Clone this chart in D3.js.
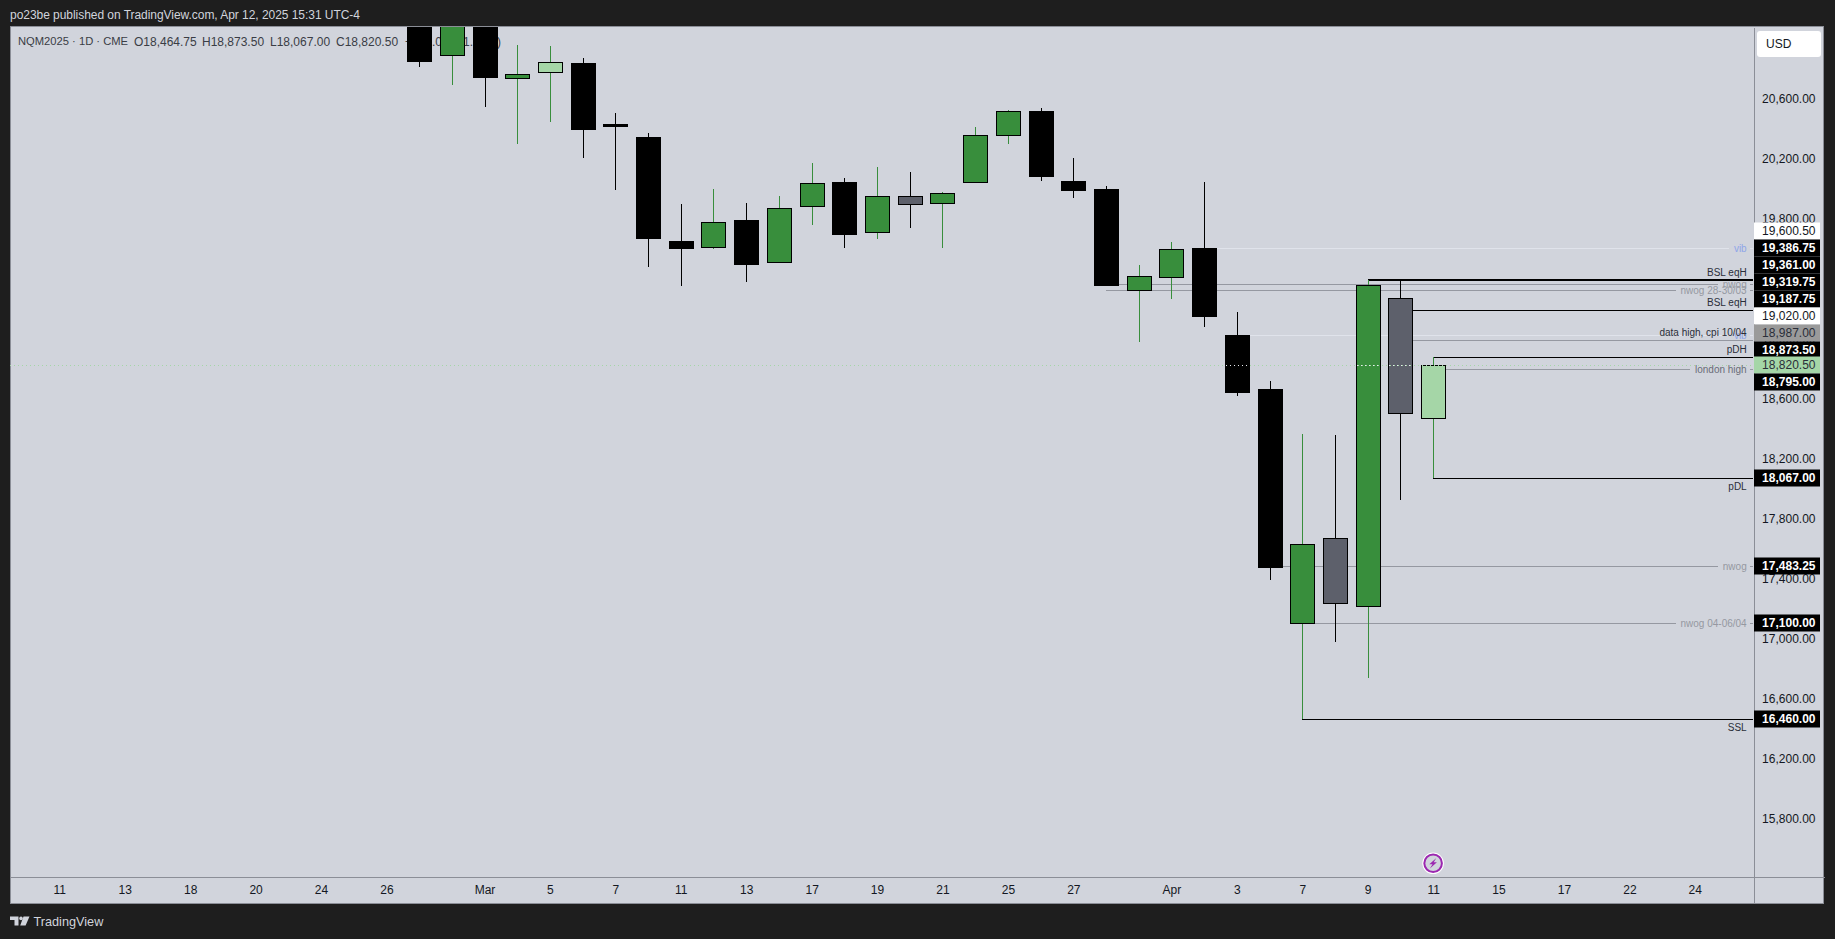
<!DOCTYPE html>
<html><head><meta charset="utf-8">
<script src="https://cdn.jsdelivr.net/npm/d3@7"></script>
<style>
html,body{margin:0;padding:0;background:#1e1e1e;overflow:hidden}
svg{display:block}
text{font-family:"Liberation Sans",Arial,sans-serif}
</style></head><body>
<svg id="c" width="1835" height="939"></svg>
<script>
// ---- data ----
const indexes = [11,12,13,14,15,16,17,18,19,20,21,22,23,24,25,26,27,28,29,30,31,32,33,34,35,36,37,38,39,40,41,42];
const opens  = [21189,20887,21255,20738,20771,20836,20429,20342,19649,19604,19789,19504,19884,20042,19704,19947,19898,20044,20351,20516,20049,19996,19318,19404,19602,19022,18662,17098,17667,17218,19267,18464.75];
const highs  = [21300,21300,21300,20956,20949,20869,20502,20369,19896,19996,19902,19949,20169,20069,20142,20109,19976,20409,20524,20536,20202,20016,19489,19642,20042,19176,18716,18362,18356,19386.75,19386,18873.5];
const lows   = [20811,20691,20544,20298,20444,20204,19991,19478,19351,19598,19378,19504,19758,19602,19664,19738,19602,20044,20296,20049,19938,19356,18978,19264,19078,18618,17389,16460,16978,16738,17925,18067];
const closes = [20851,21222,20744,20762,20840,20398,20418,19669,19602,19774,19496,19867,20034,19696,19947,19891,19967,20354,20514,20082,19989,19356,19414,19594,19149,18642,17478,17627,17231,19356,18498,18820.5];
const kinds  = ["down","up","down","up","light","down","down","down","down","up","down","up","up","down","up","gray","up","up","up","down","down","down","up","up","down","down","down","up","gray","up","gray","light"];

const timeTickIndex = [0,2,4,6,8,10,13,15,17,19,21,23,25,27,29,31,34,36,38,40,42,44,46,48,50];
const timeTickLabels = ["11","13","18","20","24","26","Mar","5","7","11","13","17","19","21","25","27","Apr","3","7","9","11","15","17","22","24"];
const priceTicks = [20600,20200,19800,19400,19000,18600,18200,17800,17400,17000,16600,16200,15800];

const levelPrices = [19600.5,19386.75,19361,19319.75,19187.75,19020,18987,18873.5,18795,18067,17483.25,17100,16460];
const levelStart  = [35,40,32,32,41,36,41,42,42,42,37,38,38];
const levelTexts  = ["vib","BSL eqH","nwog","nwog 28-30/03","BSL eqH","vib","data high, cpi 10/04","pDH","london high","pDL","nwog","nwog 04-06/04","SSL"];
const levelKinds  = ["vib","liqAbove","inline","inline","liqAbove","vib","grayAbove","liqAbove","inlineDark","liqBelow","inline","inline","liqBelow"];

const tagTexts = ["19,600.50","19,386.75","19,361.00","19,319.75","19,187.75","19,020.00","18,987.00","18,873.50","18,820.50","18,795.00","18,067.00","17,483.25","17,100.00","16,460.00"];
const tagKinds = ["white","black","black","black","black","white","grey","black","green","black","black","black","black","black"];
const tagPrices= [19715,19600.5,19487,19374,19261,19148,19034,18921,18820.5,18707,18067,17483.25,17100,16460];

const lastPrice = 18820.5;
const legendText = ["NQM2025 · 1D · CME","O18,464.75","H18,873.50","L18,067.00","C18,820.50","+323.00 (+1.75%)"];
const titleText = "po23be published on TradingView.com, Apr 12, 2025 15:31 UTC-4";

// ---- layout and style ----
const L=10,R=1824,T=27,B=903,AX=1753,TA=876;
const bg="#d1d4dc",axisCol="#8b8e97",ink="#131722";
const fillOf={down:"#000000",up:"#388e3c",light:"#a5d6a7",gray:"#5d606b"};
const wickOf={down:"#000000",up:"#388e3c",light:"#388e3c",gray:"#000000"};

const x=d3.scaleLinear().domain([-1.507,53.95]).range([L,R]);
const y=d3.scaleLinear().domain([15235.7,21075.7]).range([B,T]);

const svg=d3.select("#c");
svg.append("rect").attr("width",1835).attr("height",939).attr("fill","#1e1e1e");
svg.append("defs").append("clipPath").attr("id","pane").append("rect")
  .attr("x",L).attr("y",T).attr("width",AX-L).attr("height",TA-T);
svg.append("rect").attr("x",L+.5).attr("y",T-.5).attr("width",R-L-1).attr("height",B-T+1)
  .attr("fill",bg).attr("stroke",axisCol);

svg.append("text").attr("x",10).attr("y",15).attr("dy",".35em").attr("fill","#d1d4dc")
  .attr("font-size",12).attr("textLength",350).text(titleText);

// legend (sits under the candles)
const legendX=[18,134,202,270,336,405];
const legendFont=[11.2,12,12,12,12,12];
svg.append("g").selectAll("text").data(legendText).join("text")
  .attr("x",(d,i)=>legendX[i]).attr("y",41.5).attr("dy",".35em").attr("font-size",(d,i)=>legendFont[i])
  .attr("fill","#3a3d45").text(d=>d);

const pane=svg.append("g").attr("clip-path","url(#pane)");

// level lines + notes
const lv=levelPrices.map((p,i)=>({p,start:levelStart[i],txt:levelTexts[i],k:levelKinds[i]}));
const lineCol={vib:"#e0e3eb",liqAbove:"#000",liqBelow:"#000",grayAbove:"#9598a1",inline:"#9598a1",inlineDark:"#9598a1"};
const txtCol={vib:"#8fa5e8",liqAbove:"#2a2e39",liqBelow:"#2a2e39",grayAbove:"#2a2e39",inline:"#9598a1",inlineDark:"#6a6d78"};
const TXR=1746.7;
const lvG=pane.append("g");
lv.forEach(d=>{
  const yy=Math.round(y(d.p));
  const inline=["vib","inline","inlineDark"].includes(d.k);
  const ty=inline?yy:(d.k==="liqBelow"?yy+8.5:yy-8);
  const t=svg.append("text").attr("class","note").attr("x",TXR).attr("y",ty).attr("dy",".35em")
     .attr("text-anchor","end").attr("font-size",10).attr("fill",txtCol[d.k]).text(d.txt);
  const w=t.node().getComputedTextLength();
  const sw=d.p===19386.75?2:1;
  const segs=inline?[[x(d.start),TXR-w-5],[TXR+3,AX]]:[[x(d.start),AX]];
  segs.forEach(s=>lvG.append("line").attr("x1",s[0]).attr("x2",s[1]).attr("y1",yy).attr("y2",yy)
     .attr("stroke",lineCol[d.k]).attr("stroke-width",sw).attr("shape-rendering","crispEdges"));
});

// candles
const cd=indexes.map((ix,i)=>({ix,o:opens[i],h:highs[i],l:lows[i],c:closes[i],k:kinds[i]}));
const g=pane.append("g").selectAll("g").data(cd).join("g");
g.append("line").attr("x1",d=>Math.round(x(d.ix))+.5).attr("x2",d=>Math.round(x(d.ix))+.5)
  .attr("y1",d=>y(d.h)).attr("y2",d=>y(d.l)).attr("stroke",d=>wickOf[d.k]).attr("stroke-width",1)
  .attr("shape-rendering","crispEdges");
g.append("rect").attr("x",d=>Math.round(x(d.ix))-11.5).attr("width",24)
  .attr("y",d=>Math.round(y(Math.max(d.o,d.c)))+.5)
  .attr("height",d=>Math.max(1,Math.round(y(Math.min(d.o,d.c))-y(Math.max(d.o,d.c)))))
  .attr("fill",d=>fillOf[d.k]).attr("stroke","#000").attr("stroke-width",1);

// last price dotted line: green on the pane, pale across dark candle bodies
const ly=Math.round(y(lastPrice))+.5;
pane.append("line").attr("x1",L).attr("x2",AX).attr("y1",ly).attr("y2",ly)
  .attr("stroke","#a5d6a7").attr("stroke-width",1).attr("stroke-dasharray","1 3");
pane.append("g").selectAll("line")
  .data(cd.filter(d=>d.k!=="light"&&Math.min(d.o,d.c)<lastPrice&&Math.max(d.o,d.c)>lastPrice)).join("line")
  .attr("x1",d=>Math.round(x(d.ix))-11).attr("x2",d=>Math.round(x(d.ix))+12).attr("y1",ly).attr("y2",ly)
  .attr("stroke","#e8ebf0").attr("stroke-width",1).attr("stroke-dasharray","1 3");
svg.selectAll("text.note").raise();

// axes
const yAxis=d3.axisRight(y).tickValues(priceTicks).tickFormat(d3.format(",.2f")).tickSize(0);
const ya=svg.append("g").attr("transform",`translate(${AX+.5},0)`).call(yAxis);
ya.select(".domain").attr("stroke",axisCol).attr("shape-rendering","crispEdges");
ya.selectAll("text").attr("x",62).attr("text-anchor","end").attr("font-size",12)
  .attr("font-family",'"Liberation Sans",Arial,sans-serif').attr("fill",ink);

const xAxis=d3.axisBottom(x).tickValues(timeTickIndex).tickFormat((d,i)=>timeTickLabels[i]).tickSize(0);
const xa=svg.append("g").attr("transform",`translate(0,${TA+.5})`).call(xAxis);
xa.select(".domain").attr("stroke",axisCol).attr("shape-rendering","crispEdges");
xa.selectAll("text").attr("y",13.5).attr("dy",".35em").attr("font-size",12)
  .attr("font-family",'"Liberation Sans",Arial,sans-serif').attr("fill",ink);

// price tags
const tagStyle={white:["#ffffff","#131722"],black:["#000000","#ffffff"],grey:["#9a9a9a","#2a2e39"],green:["#a5d6a7","#2a2e39"]};
const tg=svg.append("g").selectAll("g").data(tagTexts.map((t,i)=>({t,k:tagKinds[i],p:tagPrices[i]}))).join("g")
  .attr("transform",d=>`translate(${AX+1},${Math.round(y(d.p))})`);
tg.append("rect").attr("x",0).attr("y",-8.5).attr("width",66).attr("height",17).attr("fill",d=>tagStyle[d.k][0]);
tg.append("text").attr("x",61.5).attr("dy",".35em").attr("text-anchor","end").attr("font-size",12)
  .attr("font-weight",d=>d.k==="black"?"bold":"normal").attr("fill",d=>tagStyle[d.k][1]).text(d=>d.t);

// USD button
svg.append("rect").attr("x",1757).attr("y",31).attr("width",64).attr("height",26).attr("rx",3).attr("fill","#fff");
svg.append("text").attr("x",1766).attr("y",44).attr("dy",".35em").attr("font-size",12).attr("fill",ink).text("USD");

// event badge
const ev=svg.append("g").attr("transform",`translate(${x(42)},863.3)`);
ev.append("circle").attr("r",10.8).attr("fill","#fff");
ev.append("circle").attr("r",8.8).attr("fill",bg).attr("stroke","#9c27b0").attr("stroke-width",2);
ev.append("path").attr("d","M3.2,-5.2L-3.8,1H-0.6L-3.2,5.2L3.8,-1H0.6Z").attr("fill","#9c27b0");

// brand
svg.append("path").attr("d","M10,916.5H18.5V925.5H14.5V920H10ZM23.5,916.5H29.5L25.6,925.5H20.2Z").attr("fill","#d1d4dc");
svg.append("circle").attr("cx",21).attr("cy",918.4).attr("r",1.8).attr("fill","#d1d4dc");
svg.append("text").attr("x",33.5).attr("y",921.5).attr("dy",".35em").attr("font-size",12.7).attr("fill","#d1d4dc").text("TradingView");
</script>
</body></html>
